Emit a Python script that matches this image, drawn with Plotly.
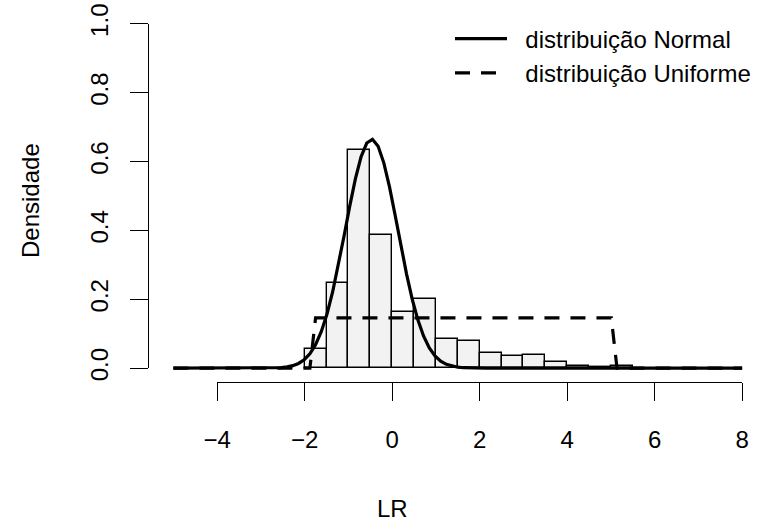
import numpy as np
import plotly.graph_objects as go

# ---- data ----
bin_left = [-2.0, -1.5, -1.0, -0.5, 0.0, 0.5, 1.0, 1.5, 2.0, 2.5, 3.0, 3.5, 4.0, 4.5, 5.0]
bin_width = 0.5
density = [0.057, 0.248, 0.635, 0.388, 0.163, 0.200, 0.086, 0.078, 0.043, 0.035, 0.039,
           0.017, 0.007, 0.003, 0.006]

normal_mean = -0.47
normal_sd = 0.60
unif_min = -1.80
unif_max = 5.05
curve_from = -5.0
curve_to = 8.0
curve_n = 101

x_ticks = [-4, -2, 0, 2, 4, 6, 8]
x_tick_labels = ["\u22124", "\u22122", "0", "2", "4", "6", "8"]
y_ticks = [0.0, 0.2, 0.4, 0.6, 0.8, 1.0]
y_tick_labels = ["0.0", "0.2", "0.4", "0.6", "0.8", "1.0"]

series_names = ["distribuição Normal", "distribuição Uniforme"]
x_title = "LR"
y_title = "Densidade"

# ---- derived ----
bin_centers = [b + bin_width / 2 for b in bin_left]
xs = np.linspace(curve_from, curve_to, curve_n)
normal_y = np.exp(-0.5 * ((xs - normal_mean) / normal_sd) ** 2) / (normal_sd * np.sqrt(2 * np.pi))
unif_y = np.where((xs >= unif_min) & (xs <= unif_max), 1.0 / (unif_max - unif_min), 0.0)

FONT = "Liberation Sans, Arial, Helvetica, sans-serif"
FS = 24
PAD = "\u00a0\u00a0"

x_range = [-5.58, 8.477]
y_range = [-0.04, 1.04]

def frac(v, r):
    return (v - r[0]) / (r[1] - r[0])

fig = go.Figure()
fig.add_trace(go.Bar(
    x=bin_centers, y=density, width=bin_width,
    marker=dict(color="#F2F2F2", line=dict(color="black", width=1.4)),
    showlegend=False, hoverinfo="skip"))
fig.add_trace(go.Scatter(
    x=xs, y=normal_y, mode="lines", name=PAD + series_names[0],
    line=dict(color="black", width=3.2)))
fig.add_trace(go.Scatter(
    x=xs, y=unif_y, mode="lines", name=PAD + series_names[1],
    line=dict(color="black", width=3.2, dash="15px,11px")))
# holder trace for the R-style offset axes
fig.add_trace(go.Scatter(x=[None], y=[None], xaxis="x2", yaxis="y2",
                         showlegend=False, hoverinfo="skip"))

axis_common = dict(showgrid=False, zeroline=False, linecolor="black", linewidth=1.4,
                   ticks="outside", ticklen=18, tickwidth=1.4, tickcolor="black",
                   tickfont=dict(family=FONT, size=FS, color="black"), showline=True,
                   automargin=False, ticklabeloverflow="allow")

fig.update_layout(
    width=763, height=526,
    margin=dict(l=148, r=0, t=10, b=144, autoexpand=False),
    paper_bgcolor="white", plot_bgcolor="rgba(0,0,0,0)",
    bargap=0,
    font=dict(family=FONT, size=FS, color="black"),
    xaxis=dict(range=x_range, visible=False, showgrid=False, zeroline=False, automargin=False),
    yaxis=dict(range=y_range, visible=False, showgrid=False, zeroline=False, automargin=False),
    xaxis2=dict(range=[x_ticks[0], x_ticks[-1]],
                domain=[frac(x_ticks[0], x_range), frac(x_ticks[-1], x_range)],
                anchor="free", position=0, tickmode="array",
                tickvals=x_ticks, ticktext=x_tick_labels, ticklabelstandoff=18,
                **axis_common),
    yaxis2=dict(range=[y_ticks[0], y_ticks[-1]],
                domain=[frac(y_ticks[0], y_range), frac(y_ticks[-1], y_range)],
                anchor="free", position=0, tickmode="array",
                tickvals=y_ticks, ticktext=y_tick_labels, tickangle=-90,
                ticklabelstandoff=12, **axis_common),
    legend=dict(x=(450 - 148) / 615, y=(382 - 16.5) / 372, xanchor="left", yanchor="top",
                bgcolor="rgba(0,0,0,0)", borderwidth=0, itemwidth=52,
                font=dict(family=FONT, size=FS, color="black"), tracegroupgap=0),
    annotations=[
        dict(text=y_title, xref="paper", yref="paper", x=(30 - 148) / 615, y=(382 - 201) / 372,
             xanchor="center", yanchor="middle", textangle=-90, showarrow=False,
             font=dict(family=FONT, size=FS, color="black")),
        dict(text=x_title, xref="paper", yref="paper", x=(392 - 148) / 615, y=(382 - 509) / 372,
             xanchor="center", yanchor="middle", showarrow=False,
             font=dict(family=FONT, size=FS, color="black")),
    ],
)

fig.write_html("out.html", config={"displayModeBar": False},
               post_script="document.body.style.margin='0px';")
